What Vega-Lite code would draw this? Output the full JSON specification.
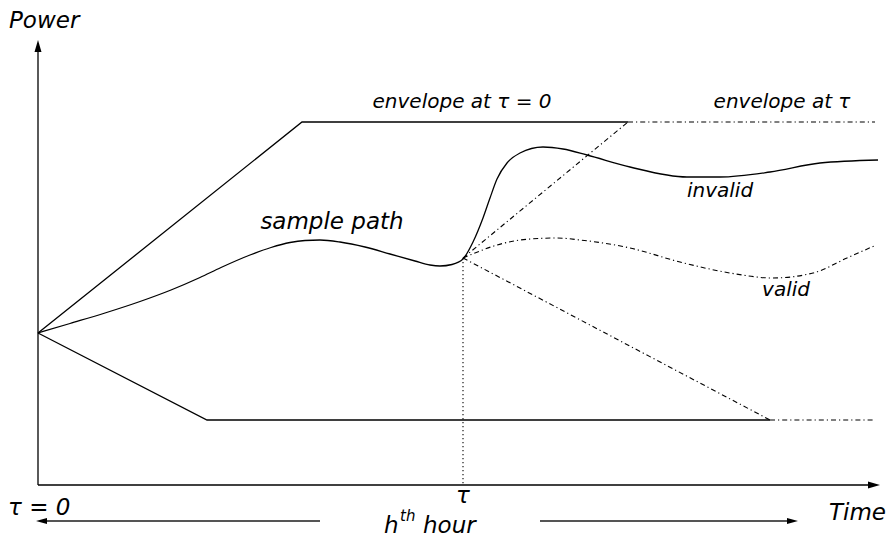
{
  "$schema": "https://vega.github.io/schema/vega-lite/v6.json",
  "width": 892,
  "height": 540,
  "autosize": {"type": "fit", "contains": "padding"},
  "padding": 0,
  "background": "white",
  "config": {"view": {"stroke": null}, "axis": {"disable": true}},
  "datasets": {
    "lines": [
      {"id": "yaxis", "k": 0, "t": 38, "p": 55}, {"id": "yaxis", "k": 1, "t": 38, "p": 496},
      {"id": "xaxis", "k": 0, "t": 38, "p": 55}, {"id": "xaxis", "k": 1, "t": 876, "p": 55},
      {"id": "env_up", "k": 0, "t": 38, "p": 207}, {"id": "env_up", "k": 1, "t": 302, "p": 418}, {"id": "env_up", "k": 2, "t": 628, "p": 418},
      {"id": "env_low", "k": 0, "t": 38, "p": 207}, {"id": "env_low", "k": 1, "t": 207, "p": 120}, {"id": "env_low", "k": 2, "t": 770, "p": 120},
      {"id": "tau_up", "k": 0, "t": 628, "p": 418}, {"id": "tau_up", "k": 1, "t": 875, "p": 418},
      {"id": "tau_low", "k": 0, "t": 770, "p": 120}, {"id": "tau_low", "k": 1, "t": 875, "p": 120},
      {"id": "ray_up", "k": 0, "t": 463, "p": 282}, {"id": "ray_up", "k": 1, "t": 628, "p": 418},
      {"id": "ray_low", "k": 0, "t": 463, "p": 282}, {"id": "ray_low", "k": 1, "t": 770, "p": 120},
      {"id": "tau_line", "k": 0, "t": 463, "p": 282}, {"id": "tau_line", "k": 1, "t": 463, "p": 55},
      {"id": "hour_left", "k": 0, "t": 320, "p": 19}, {"id": "hour_left", "k": 1, "t": 42, "p": 19},
      {"id": "hour_right", "k": 0, "t": 540, "p": 19}, {"id": "hour_right", "k": 1, "t": 792, "p": 19}
    ],
    "sample": [
      {"k": 0, "t": 38, "p": 207}, {"k": 1, "t": 70, "p": 216.5}, {"k": 2, "t": 105, "p": 227}, {"k": 3, "t": 140, "p": 238.5},
      {"k": 4, "t": 171, "p": 250}, {"k": 5, "t": 200, "p": 262.5}, {"k": 6, "t": 221, "p": 272.5}, {"k": 7, "t": 250, "p": 285},
      {"k": 8, "t": 271, "p": 292.5}, {"k": 9, "t": 290, "p": 297.5}, {"k": 10, "t": 305, "p": 299.5}, {"k": 11, "t": 320, "p": 300},
      {"k": 12, "t": 340, "p": 298}, {"k": 13, "t": 365, "p": 293}, {"k": 14, "t": 390, "p": 286}, {"k": 15, "t": 415, "p": 279},
      {"k": 16, "t": 430, "p": 275}, {"k": 17, "t": 440, "p": 274}, {"k": 18, "t": 452, "p": 275.5}, {"k": 19, "t": 463, "p": 281},
      {"k": 20, "t": 473, "p": 298}, {"k": 21, "t": 483, "p": 322}, {"k": 22, "t": 490, "p": 342}, {"k": 23, "t": 497, "p": 361},
      {"k": 24, "t": 507, "p": 377}, {"k": 25, "t": 520, "p": 387}, {"k": 26, "t": 543, "p": 393}, {"k": 27, "t": 563, "p": 391},
      {"k": 28, "t": 587, "p": 385}, {"k": 29, "t": 630, "p": 373}, {"k": 30, "t": 687, "p": 363}, {"k": 31, "t": 720, "p": 363},
      {"k": 32, "t": 770, "p": 368}, {"k": 33, "t": 820, "p": 377}, {"k": 34, "t": 878, "p": 380}
    ],
    "valid": [
      {"k": 0, "t": 463, "p": 282}, {"k": 1, "t": 480, "p": 289}, {"k": 2, "t": 497, "p": 295}, {"k": 3, "t": 530, "p": 301},
      {"k": 4, "t": 557, "p": 302}, {"k": 5, "t": 580, "p": 300}, {"k": 6, "t": 630, "p": 292}, {"k": 7, "t": 680, "p": 278},
      {"k": 8, "t": 730, "p": 267}, {"k": 9, "t": 773, "p": 262}, {"k": 10, "t": 813, "p": 267}, {"k": 11, "t": 847, "p": 282},
      {"k": 12, "t": 874, "p": 294}
    ],
    "heads": [
      {"dir": "up", "t": 38, "p": 500, "g": "axis"},
      {"dir": "right", "t": 880, "p": 55, "g": "axis"},
      {"dir": "left", "t": 36, "p": 19, "g": "hour"},
      {"dir": "right", "t": 798, "p": 19, "g": "hour"}
    ],
    "bigtext": [
      {"label": "Power", "t": 9, "p": 512, "a": "left"},
      {"label": "sample path", "t": 332, "p": 311, "a": "center"},
      {"label": "τ = 0", "t": 8, "p": 25, "a": "left"},
      {"label": "τ", "t": 463, "p": 37, "a": "center"},
      {"label": "Time", "t": 829, "p": 20, "a": "left"},
      {"label": "h", "t": 384, "p": 7, "a": "left"},
      {"label": "hour", "t": 423, "p": 7, "a": "left"}
    ],
    "midtext": [
      {"label": "envelope at τ = 0", "t": 462, "p": 432},
      {"label": "envelope at τ", "t": 782, "p": 432},
      {"label": "invalid", "t": 720, "p": 343},
      {"label": "valid", "t": 786, "p": 244}
    ],
    "suptext": [
      {"label": "th", "t": 400, "p": 19}
    ]
  },
  "encoding": {
    "x": {"field": "t", "type": "quantitative", "scale": {"domain": [0, 892], "nice": false, "zero": false}, "axis": null},
    "y": {"field": "p", "type": "quantitative", "scale": {"domain": [0, 540], "nice": false, "zero": false}, "axis": null}
  },
  "layer": [
    {
      "data": {"name": "lines"},
      "transform": [{"filter": {"field": "id", "oneOf": ["yaxis", "xaxis", "env_up", "env_low"]}}],
      "mark": {"type": "line", "color": "black", "strokeWidth": 1.3},
      "encoding": {"detail": {"field": "id"}, "order": {"field": "k"}}
    },
    {
      "data": {"name": "lines"},
      "transform": [{"filter": {"field": "id", "oneOf": ["tau_up", "tau_low", "ray_up", "ray_low"]}}],
      "mark": {"type": "line", "color": "black", "strokeWidth": 1.1, "strokeDash": [5, 3, 1.2, 3]},
      "encoding": {"detail": {"field": "id"}, "order": {"field": "k"}}
    },
    {
      "data": {"name": "lines"},
      "transform": [{"filter": {"field": "id", "oneOf": ["tau_line"]}}],
      "mark": {"type": "line", "color": "black", "strokeWidth": 1.1, "strokeDash": [1.3, 2.7]},
      "encoding": {"detail": {"field": "id"}, "order": {"field": "k"}}
    },
    {
      "data": {"name": "lines"},
      "transform": [{"filter": {"field": "id", "oneOf": ["hour_left", "hour_right"]}}],
      "mark": {"type": "line", "color": "#555555", "strokeWidth": 2},
      "encoding": {"detail": {"field": "id"}, "order": {"field": "k"}}
    },
    {
      "data": {"name": "sample"},
      "mark": {"type": "line", "color": "black", "strokeWidth": 1.3, "interpolate": "monotone"},
      "encoding": {"order": {"field": "k"}}
    },
    {
      "data": {"name": "valid"},
      "mark": {"type": "line", "color": "black", "strokeWidth": 1.1, "interpolate": "monotone", "strokeDash": [5, 3, 1.2, 3]},
      "encoding": {"order": {"field": "k"}}
    },
    {
      "data": {"name": "heads"},
      "transform": [{"filter": "datum.dir == 'up'"}],
      "mark": {"type": "point", "filled": true, "color": "black", "opacity": 1, "size": 400, "strokeWidth": 0, "shape": "M0,0L0.35,1.2L-0.35,1.2Z"}
    },
    {
      "data": {"name": "heads"},
      "transform": [{"filter": "datum.dir == 'right' && datum.g == 'axis'"}],
      "mark": {"type": "point", "filled": true, "color": "black", "opacity": 1, "size": 400, "strokeWidth": 0, "shape": "M0,0L-1.2,-0.35L-1.2,0.35Z"}
    },
    {
      "data": {"name": "heads"},
      "transform": [{"filter": "datum.dir == 'right' && datum.g == 'hour'"}],
      "mark": {"type": "point", "filled": true, "color": "black", "opacity": 1, "size": 400, "strokeWidth": 0, "shape": "M0,0L-1.1,-0.3L-1.1,0.3Z"}
    },
    {
      "data": {"name": "heads"},
      "transform": [{"filter": "datum.dir == 'left'"}],
      "mark": {"type": "point", "filled": true, "color": "black", "opacity": 1, "size": 400, "strokeWidth": 0, "shape": "M0,0L1.1,-0.3L1.1,0.3Z"}
    },
    {
      "data": {"name": "bigtext"},
      "transform": [{"filter": "datum.a == 'left'"}],
      "mark": {"type": "text", "font": "DejaVu Sans", "fontStyle": "italic", "fontSize": 23, "align": "left", "baseline": "alphabetic", "color": "black"},
      "encoding": {"text": {"field": "label"}}
    },
    {
      "data": {"name": "bigtext"},
      "transform": [{"filter": "datum.a == 'center'"}],
      "mark": {"type": "text", "font": "DejaVu Sans", "fontStyle": "italic", "fontSize": 23, "align": "center", "baseline": "alphabetic", "color": "black"},
      "encoding": {"text": {"field": "label"}}
    },
    {
      "data": {"name": "midtext"},
      "mark": {"type": "text", "font": "DejaVu Sans", "fontStyle": "italic", "fontSize": 20, "align": "center", "baseline": "alphabetic", "color": "black"},
      "encoding": {"text": {"field": "label"}}
    },
    {
      "data": {"name": "suptext"},
      "mark": {"type": "text", "font": "DejaVu Sans", "fontStyle": "italic", "fontSize": 15, "align": "left", "baseline": "alphabetic", "color": "black"},
      "encoding": {"text": {"field": "label"}}
    }
  ]
}
